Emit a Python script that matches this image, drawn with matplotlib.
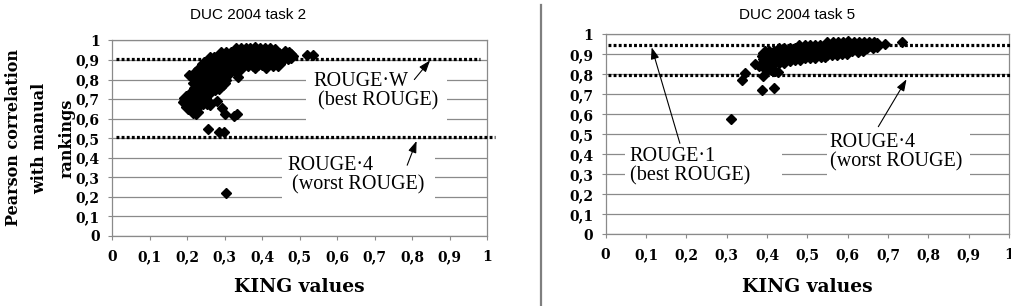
import matplotlib
matplotlib.use("Agg")
import matplotlib.pyplot as plt
from matplotlib.patches import Rectangle

# tick positions and labels (comma decimals as in the original)
ticks = [0, 0.1, 0.2, 0.3, 0.4, 0.5, 0.6, 0.7, 0.8, 0.9, 1]
tick_labels = ["0", "0,1", "0,2", "0,3", "0,4", "0,5", "0,6", "0,7", "0,8", "0,9", "1"]

# DUC 2004 task 2: (KING value, Pearson correlation), dense cluster
task2_dense = [
    (0.330, 0.950), (0.343, 0.953), (0.356, 0.950), (0.369, 0.952), (0.382, 0.955), (0.395, 0.952),
    (0.408, 0.950), (0.421, 0.951), (0.434, 0.948),
    (0.290, 0.930), (0.303, 0.932), (0.316, 0.930), (0.329, 0.933), (0.342, 0.930), (0.355, 0.931),
    (0.368, 0.930), (0.381, 0.933), (0.394, 0.930), (0.407, 0.932), (0.420, 0.930), (0.433, 0.931),
    (0.446, 0.928), (0.460, 0.935), (0.473, 0.932),
    (0.260, 0.905), (0.273, 0.907), (0.286, 0.905), (0.299, 0.906), (0.312, 0.905), (0.325, 0.908),
    (0.338, 0.905), (0.351, 0.906), (0.364, 0.905), (0.377, 0.907), (0.390, 0.905), (0.403, 0.906),
    (0.416, 0.903), (0.430, 0.905), (0.455, 0.912), (0.468, 0.915), (0.476, 0.922),
    (0.245, 0.880), (0.258, 0.882), (0.271, 0.880), (0.284, 0.881), (0.297, 0.880), (0.310, 0.882),
    (0.323, 0.880), (0.336, 0.881), (0.349, 0.880), (0.362, 0.882), (0.375, 0.880), (0.388, 0.883),
    (0.400, 0.885), (0.415, 0.887), (0.428, 0.880), (0.443, 0.878),
    (0.235, 0.855), (0.248, 0.857), (0.261, 0.855), (0.274, 0.856), (0.287, 0.855), (0.300, 0.857),
    (0.313, 0.855), (0.326, 0.860), (0.345, 0.865), (0.380, 0.870), (0.410, 0.872),
    (0.220, 0.830), (0.233, 0.832), (0.246, 0.830), (0.259, 0.831), (0.272, 0.830),
    (0.285, 0.832), (0.298, 0.830), (0.308, 0.835),
    (0.222, 0.808), (0.233, 0.806), (0.246, 0.808), (0.259, 0.805), (0.272, 0.807), (0.285, 0.805),
    (0.298, 0.800),
    (0.222, 0.783), (0.233, 0.785), (0.246, 0.782), (0.259, 0.785), (0.272, 0.783), (0.285, 0.786),
    (0.296, 0.785),
    (0.224, 0.758), (0.235, 0.760), (0.248, 0.757), (0.261, 0.760), (0.274, 0.758), (0.284, 0.760),
    (0.212, 0.733), (0.223, 0.735), (0.236, 0.732), (0.249, 0.735), (0.257, 0.733),
    (0.198, 0.708), (0.208, 0.710), (0.221, 0.707), (0.234, 0.710), (0.246, 0.708),
    (0.195, 0.683), (0.205, 0.685), (0.218, 0.682), (0.231, 0.685), (0.243, 0.683), (0.253, 0.686),
    (0.202, 0.662), (0.213, 0.662), (0.225, 0.660),
    (0.216, 0.638), (0.225, 0.635),
]
task2_sparse = [
    (0.205, 0.822), (0.336, 0.812), (0.280, 0.688), (0.262, 0.668), (0.192, 0.690),
    (0.292, 0.656), (0.301, 0.622), (0.324, 0.614), (0.333, 0.626),
    (0.255, 0.545), (0.286, 0.532), (0.298, 0.532),
    (0.305, 0.220),
    (0.520, 0.925), (0.535, 0.925),
]

# DUC 2004 task 5
task5_dense = [
    (0.550, 0.950), (0.563, 0.952), (0.576, 0.950), (0.589, 0.953), (0.600, 0.958), (0.615, 0.952),
    (0.628, 0.950), (0.641, 0.953), (0.654, 0.953), (0.665, 0.950),
    (0.480, 0.937), (0.493, 0.935), (0.506, 0.938), (0.519, 0.936), (0.532, 0.937), (0.545, 0.935),
    (0.558, 0.938), (0.571, 0.936), (0.584, 0.937), (0.597, 0.935), (0.610, 0.938), (0.623, 0.936),
    (0.636, 0.940), (0.649, 0.942), (0.662, 0.941), (0.673, 0.945),
    (0.430, 0.922), (0.443, 0.920), (0.456, 0.923), (0.469, 0.921), (0.482, 0.922), (0.495, 0.920),
    (0.508, 0.923), (0.521, 0.921), (0.534, 0.922), (0.547, 0.920), (0.560, 0.923), (0.573, 0.921),
    (0.586, 0.922), (0.599, 0.920), (0.612, 0.925), (0.625, 0.923), (0.638, 0.927),
    (0.394, 0.907), (0.405, 0.905), (0.418, 0.908), (0.431, 0.906), (0.444, 0.907), (0.457, 0.905),
    (0.470, 0.908), (0.483, 0.906), (0.496, 0.907), (0.509, 0.905), (0.522, 0.908), (0.535, 0.906),
    (0.548, 0.907), (0.561, 0.905), (0.574, 0.908), (0.587, 0.910), (0.598, 0.912),
    (0.392, 0.892), (0.403, 0.890), (0.416, 0.893), (0.429, 0.891), (0.442, 0.892), (0.455, 0.890),
    (0.468, 0.893), (0.481, 0.891), (0.494, 0.892), (0.507, 0.890), (0.520, 0.893), (0.533, 0.895),
    (0.543, 0.897),
    (0.394, 0.877), (0.405, 0.875), (0.418, 0.878), (0.431, 0.876), (0.444, 0.877), (0.457, 0.879),
    (0.470, 0.880), (0.481, 0.882),
    (0.402, 0.864), (0.415, 0.862), (0.430, 0.865), (0.443, 0.867),
]
task5_sparse = [
    (0.370, 0.850), (0.380, 0.842), (0.390, 0.835), (0.400, 0.828), (0.410, 0.822), (0.420, 0.815),
    (0.428, 0.810),
    (0.345, 0.805), (0.337, 0.771), (0.391, 0.790), (0.388, 0.722), (0.418, 0.732),
    (0.310, 0.578),
    (0.693, 0.950), (0.734, 0.960),
]

# reference lines: (name, correlation)
task2_best = ("ROUGE·W", 0.906)
task2_worst = ("ROUGE·4", 0.508)
task5_best = ("ROUGE·1", 0.946)
task5_worst = ("ROUGE·4", 0.795)

SERIF = "DejaVu Serif"
NOTE = "Liberation Serif"
GRID = "#8a8a8a"

fig = plt.figure(figsize=(10.12, 3.06), dpi=100)
ax1 = fig.add_axes([0.1107, 0.2288, 0.3706, 0.6389])
ax2 = fig.add_axes([0.5985, 0.2343, 0.3985, 0.6536])


def style(ax):
    ax.set_xlim(0, 1)
    ax.set_ylim(0, 1)
    ax.set_xticks(ticks)
    ax.set_yticks(ticks)
    ax.set_xticklabels(tick_labels, family=SERIF, weight="bold", size=10)
    ax.set_yticklabels(tick_labels, family=SERIF, weight="bold", size=10)
    ax.tick_params(direction="out", length=3, color=GRID, width=0.8)
    ax.tick_params(axis="x", pad=7)
    ax.tick_params(axis="y", pad=6)
    for s in ax.spines.values():
        s.set_color(GRID)
        s.set_linewidth(0.9)
    ax.set_axisbelow(True)
    ax.yaxis.grid(True, color=GRID, linewidth=0.9)


def dotted(ax, y, x0, x1):
    ax.plot([x0, x1], [y, y], color="black", linewidth=2.3, linestyle=(0, (0.9, 0.7)),
            clip_on=False, zorder=3)


def points(ax, dense, sparse):
    ax.plot([p[0] for p in dense], [p[1] for p in dense], linestyle="none",
            marker="D", markersize=6.8, color="black", clip_on=False, zorder=4)
    ax.plot([p[0] for p in sparse], [p[1] for p in sparse], linestyle="none",
            marker="D", markersize=5.0, color="black", clip_on=False, zorder=4)


def label_box(ax, box, xy_text, text, arrow_from, arrow_to):
    ax.add_patch(Rectangle((box[0], box[1]), box[2] - box[0], box[3] - box[1],
                           facecolor="white", edgecolor="none", zorder=1))
    ax.text(xy_text[0], xy_text[1], text, family=NOTE, size=14.5, ha="left", va="center",
            linespacing=1.0, zorder=2)
    ax.annotate("", xy=arrow_to, xytext=arrow_from,
                arrowprops=dict(arrowstyle="-|>,head_length=0.7,head_width=0.25",
                                color="black", lw=0.8, shrinkA=0, shrinkB=0), zorder=5)


for ax in (ax1, ax2):
    style(ax)

# left panel
label_box(ax1, (0.517, 0.58, 0.893, 0.86), (0.536, 0.74),
          task2_best[0] + "\n (best ROUGE)", (0.806, 0.80), (0.848, 0.898))
label_box(ax1, (0.453, 0.15, 0.861, 0.45), (0.467, 0.311),
          task2_worst[0] + "\n (worst ROUGE)", (0.787, 0.362), (0.812, 0.486))
dotted(ax1, task2_best[1], 0.01, 0.98)
dotted(ax1, task2_worst[1], 0.01, 1.02)
points(ax1, task2_dense, task2_sparse)

# right panel
label_box(ax2, (0.048, 0.22, 0.437, 0.48), (0.06, 0.34),
          task5_best[0] + "\n(best ROUGE)", (0.184, 0.455), (0.114, 0.935))
label_box(ax2, (0.548, 0.25, 0.903, 0.55), (0.556, 0.41),
          task5_worst[0] + "\n(worst ROUGE)", (0.676, 0.538), (0.746, 0.775))
dotted(ax2, task5_best[1], 0.006, 1.01)
dotted(ax2, task5_worst[1], 0.006, 1.01)
points(ax2, task5_dense, task5_sparse)

# axis labels and titles
for ax, y in ((ax1, -0.215), (ax2, -0.22)):
    ax.set_xlabel("KING values", family=SERIF, weight="bold", size=13.5)
    ax.xaxis.set_label_coords(0.5, y)

fig.text(40 / 1012, 1 - 138 / 306, "Pearson correlation\nwith manual\nrankings",
         family=SERIF, weight="bold", size=11.5, rotation=90, ha="center", va="center",
         multialignment="center", linespacing=1.75)

fig.text(248 / 1012, 1 - 15 / 306, "DUC 2004 task 2", family="Liberation Sans", size=11,
         ha="center", va="center")
fig.text(797 / 1012, 1 - 15 / 306, "DUC 2004 task 5", family="Liberation Sans", size=11,
         ha="center", va="center")

# separator between the two charts
fig.add_artist(plt.Line2D([540.7 / 1012, 540.7 / 1012], [0, 1 - 5 / 306],
                          color="#7f7f7f", linewidth=1.6))

fig.savefig("out.png", dpi=100)
